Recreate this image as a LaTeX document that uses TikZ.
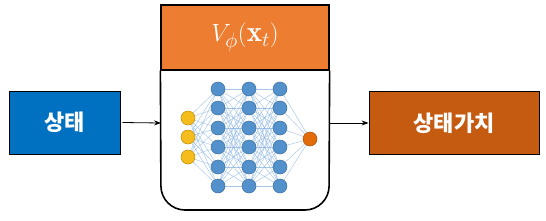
\documentclass[tikz,border=0pt]{standalone}
\usepackage{fontspec}
\usepackage{amsmath}
\usepackage{tikz}
\usetikzlibrary{arrows.meta, positioning, calc, backgrounds}
\newfontfamily\kofont{Noto Sans CJK KR}
\definecolor{stateblue}{RGB}{0,112,192}
\definecolor{valuebrown}{RGB}{197,90,17}
\definecolor{headorange}{RGB}{237,125,49}
\definecolor{nodeblue}{RGB}{82,145,204}
\definecolor{nodeblueline}{RGB}{65,113,156}
\definecolor{nodeyellow}{RGB}{245,188,30}
\definecolor{nodeyellowline}{RGB}{188,140,0}
\definecolor{nodeorange}{RGB}{226,108,10}
\definecolor{nodeorangeline}{RGB}{170,80,10}
\definecolor{edgeblue}{RGB}{130,175,225}
\tikzset{
  block/.style={rectangle, draw=black, line width=0.8pt, minimum width=111pt, minimum height=63pt, font=\kofont\bfseries\fontsize{22}{26}\selectfont, text=white},
  arrow/.style={-{Stealth[length=7pt, width=5pt]}, line width=0.8pt},
  neuron/.style={circle, minimum size=14pt, inner sep=0pt, line width=0.5pt},
  edge/.style={edgeblue, line width=0.45pt, opacity=0.7}
}
\begin{document}
\begin{tikzpicture}[x=1pt, y=-1pt]
  \useasboundingbox (0,0) rectangle (546,220);

  % Input and output blocks
  \node[block, fill=stateblue] (state) at (64.5,122.5) {상태};
  \node[block, fill=valuebrown, minimum width=170pt] (value) at (454,123) {상태가치};

  % Header of the network box
  \node[rectangle, draw=black, line width=1.2pt, fill=headorange, minimum width=168pt, minimum height=65pt, text=white, font=\fontsize{29}{34}\selectfont] (head) at (245,37.5) {$V_{\phi}(\mathbf{x}_t)$};
  \coordinate (netin) at (161,123);
  \coordinate (netout) at (329,123);

  % Input layer
  \foreach \i/\y in {1/118, 2/137, 3/157}
    \node[neuron, fill=nodeyellow, draw=nodeyellowline] (in\i) at (188,\y) {};

  % Hidden layers
  \foreach \l/\x in {1/218, 2/249, 3/280}
    \foreach \i/\y in {1/89, 2/108, 3/128, 4/147, 5/167, 6/186}
      \node[neuron, fill=nodeblue, draw=nodeblueline] (h\l\i) at (\x,\y) {};

  % Output layer
  \node[neuron, fill=nodeorange, draw=nodeorangeline] (out) at (310,139) {};

  \begin{pgfonlayer}{background}
    % Network box
    \draw[line width=1.6pt, fill=white, rounded corners=24pt] (head.south west) -- (161,210) -- (329,210) -- (head.south east);
    % Connections
    \foreach \i in {1,...,3}
      \foreach \j in {1,...,6}
        \draw[edge] (in\i) -- (h1\j);
    \foreach \i in {1,...,6}
      \foreach \j in {1,...,6} {
        \draw[edge] (h1\i) -- (h2\j);
        \draw[edge] (h2\i) -- (h3\j);
      }
    \foreach \i in {1,...,6}
      \draw[edge] (h3\i) -- (out);
  \end{pgfonlayer}

  % Arrows
  \draw[arrow] (state.east) ++(2,0) -- (netin);
  \draw[arrow] (netout) -- (value.west);
\end{tikzpicture}
\end{document}
